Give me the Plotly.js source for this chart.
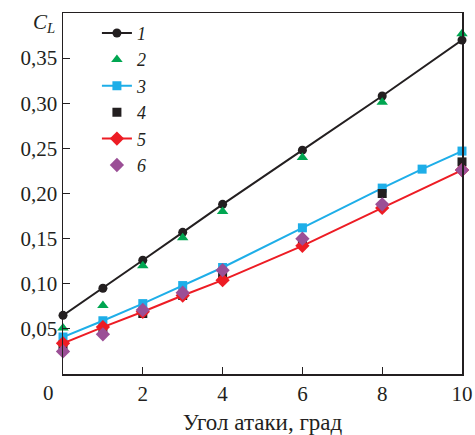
<!DOCTYPE html>
<html>
<head>
<meta charset="utf-8">
<script src="https://cdn.plot.ly/plotly-3.0.1.min.js"></script>
<style>html,body{margin:0;padding:0;background:#fff}#chart{width:475px;height:435px}</style>
</head>
<body>
<div id="chart"></div>
<script>
const names = ['1','2','3','4','5','6'];
const x1 = [0,1,2,3,4,6,8,10];
const y1 = [0.065,0.095,0.126,0.157,0.188,0.248,0.308,0.370];
const x2 = [0,1,2,3,4,6,8,10];
const y2 = [0.051,0.076,0.120,0.151,0.180,0.240,0.301,0.377];
const x3 = [0,1,2,3,4,6,8,9,10];
const y3 = [0.041,0.059,0.078,0.098,0.118,0.162,0.206,0.227,0.247];
const x4 = [0,1,2,3,4,6,8,10];
const y4 = [0.032,0.048,0.067,0.087,0.110,0.147,0.200,0.235];
const x5 = [0,1,2,3,4,6,8,10];
const y5 = [0.034,0.052,0.069,0.087,0.104,0.142,0.184,0.226];
const x6 = [0,1,2,3,4,6,8,10];
const y6 = [0.025,0.044,0.071,0.090,0.115,0.150,0.188,0.226];
const xTickVals = [2,4,6,8,10];
const yTickVals = [0.05,0.10,0.15,0.20,0.25,0.30,0.35];
const yTickText = ['0,05','0,10','0,15','0,20','0,25','0,30','0,35'];

const FONT = 'Liberation Serif, Times New Roman, serif';
const traces = [
  {x:x1,y:y1,name:names[0],mode:'lines+markers',cliponaxis:false,line:{color:'#231f20',width:2},marker:{symbol:'circle',size:9,color:'#231f20'}},
  {x:x2,y:y2,name:names[1],mode:'markers',cliponaxis:false,marker:{symbol:'triangle-up',size:10,color:'#00a651'}},
  {x:x3,y:y3,name:names[2],mode:'lines+markers',cliponaxis:false,line:{color:'#1eaee8',width:2},marker:{symbol:'square',size:9,color:'#1eaee8'}},
  {x:x4,y:y4,name:names[3],mode:'markers',cliponaxis:false,marker:{symbol:'square',size:9,color:'#231f20'}},
  {x:x5,y:y5,name:names[4],mode:'lines+markers',cliponaxis:false,line:{color:'#ed1c24',width:2},marker:{symbol:'diamond',size:11,color:'#ed1c24'}},
  {x:x6,y:y6,name:names[5],mode:'markers',cliponaxis:false,marker:{symbol:'diamond',size:11,color:'#9b4f96'}}
];

const layout = {
  width:475, height:435,
  margin:{l:63,r:13,t:13,b:61},
  paper_bgcolor:'#fff', plot_bgcolor:'#fff',
  font:{family:FONT,size:21,color:'#231f20'},
  showlegend:true,
  legend:{x:0.085,y:0.995,xanchor:'left',yanchor:'top',bgcolor:'rgba(0,0,0,0)',
    font:{family:FONT,size:18,style:'italic',color:'#231f20'},itemwidth:30,tracegroupgap:0},
  xaxis:{range:[0,10],tickvals:xTickVals,ticktext:xTickVals.map(String),ticks:'inside',ticklen:7,
    tickcolor:'#231f20',showline:true,linecolor:'#231f20',linewidth:1.5,mirror:true,showgrid:false,zeroline:false,
    tickfont:{family:FONT,size:21},
    title:{text:'Угол атаки, град',font:{family:FONT,size:23},standoff:10}},
  yaxis:{range:[0,0.40],tickvals:yTickVals,ticktext:yTickText,ticks:'inside',ticklen:7,
    tickcolor:'#231f20',showline:true,linecolor:'#231f20',linewidth:1.5,mirror:true,showgrid:false,zeroline:false,
    tickfont:{family:FONT,size:21}},
  annotations:[
    {text:'<i>C<sub>L</sub></i>',xref:'paper',yref:'paper',x:0,y:1,xanchor:'right',yanchor:'top',
     xshift:-6,yshift:5,showarrow:false,font:{family:FONT,size:21,color:'#231f20'}},
    {text:'0',xref:'paper',yref:'paper',x:0,y:0,xanchor:'center',yanchor:'top',xshift:-15,yshift:-5,
     showarrow:false,font:{family:FONT,size:21,color:'#231f20'}}
  ]
};
Plotly.newPlot('chart',traces,layout,{displayModeBar:false,staticPlot:true});
</script>
</body>
</html>
